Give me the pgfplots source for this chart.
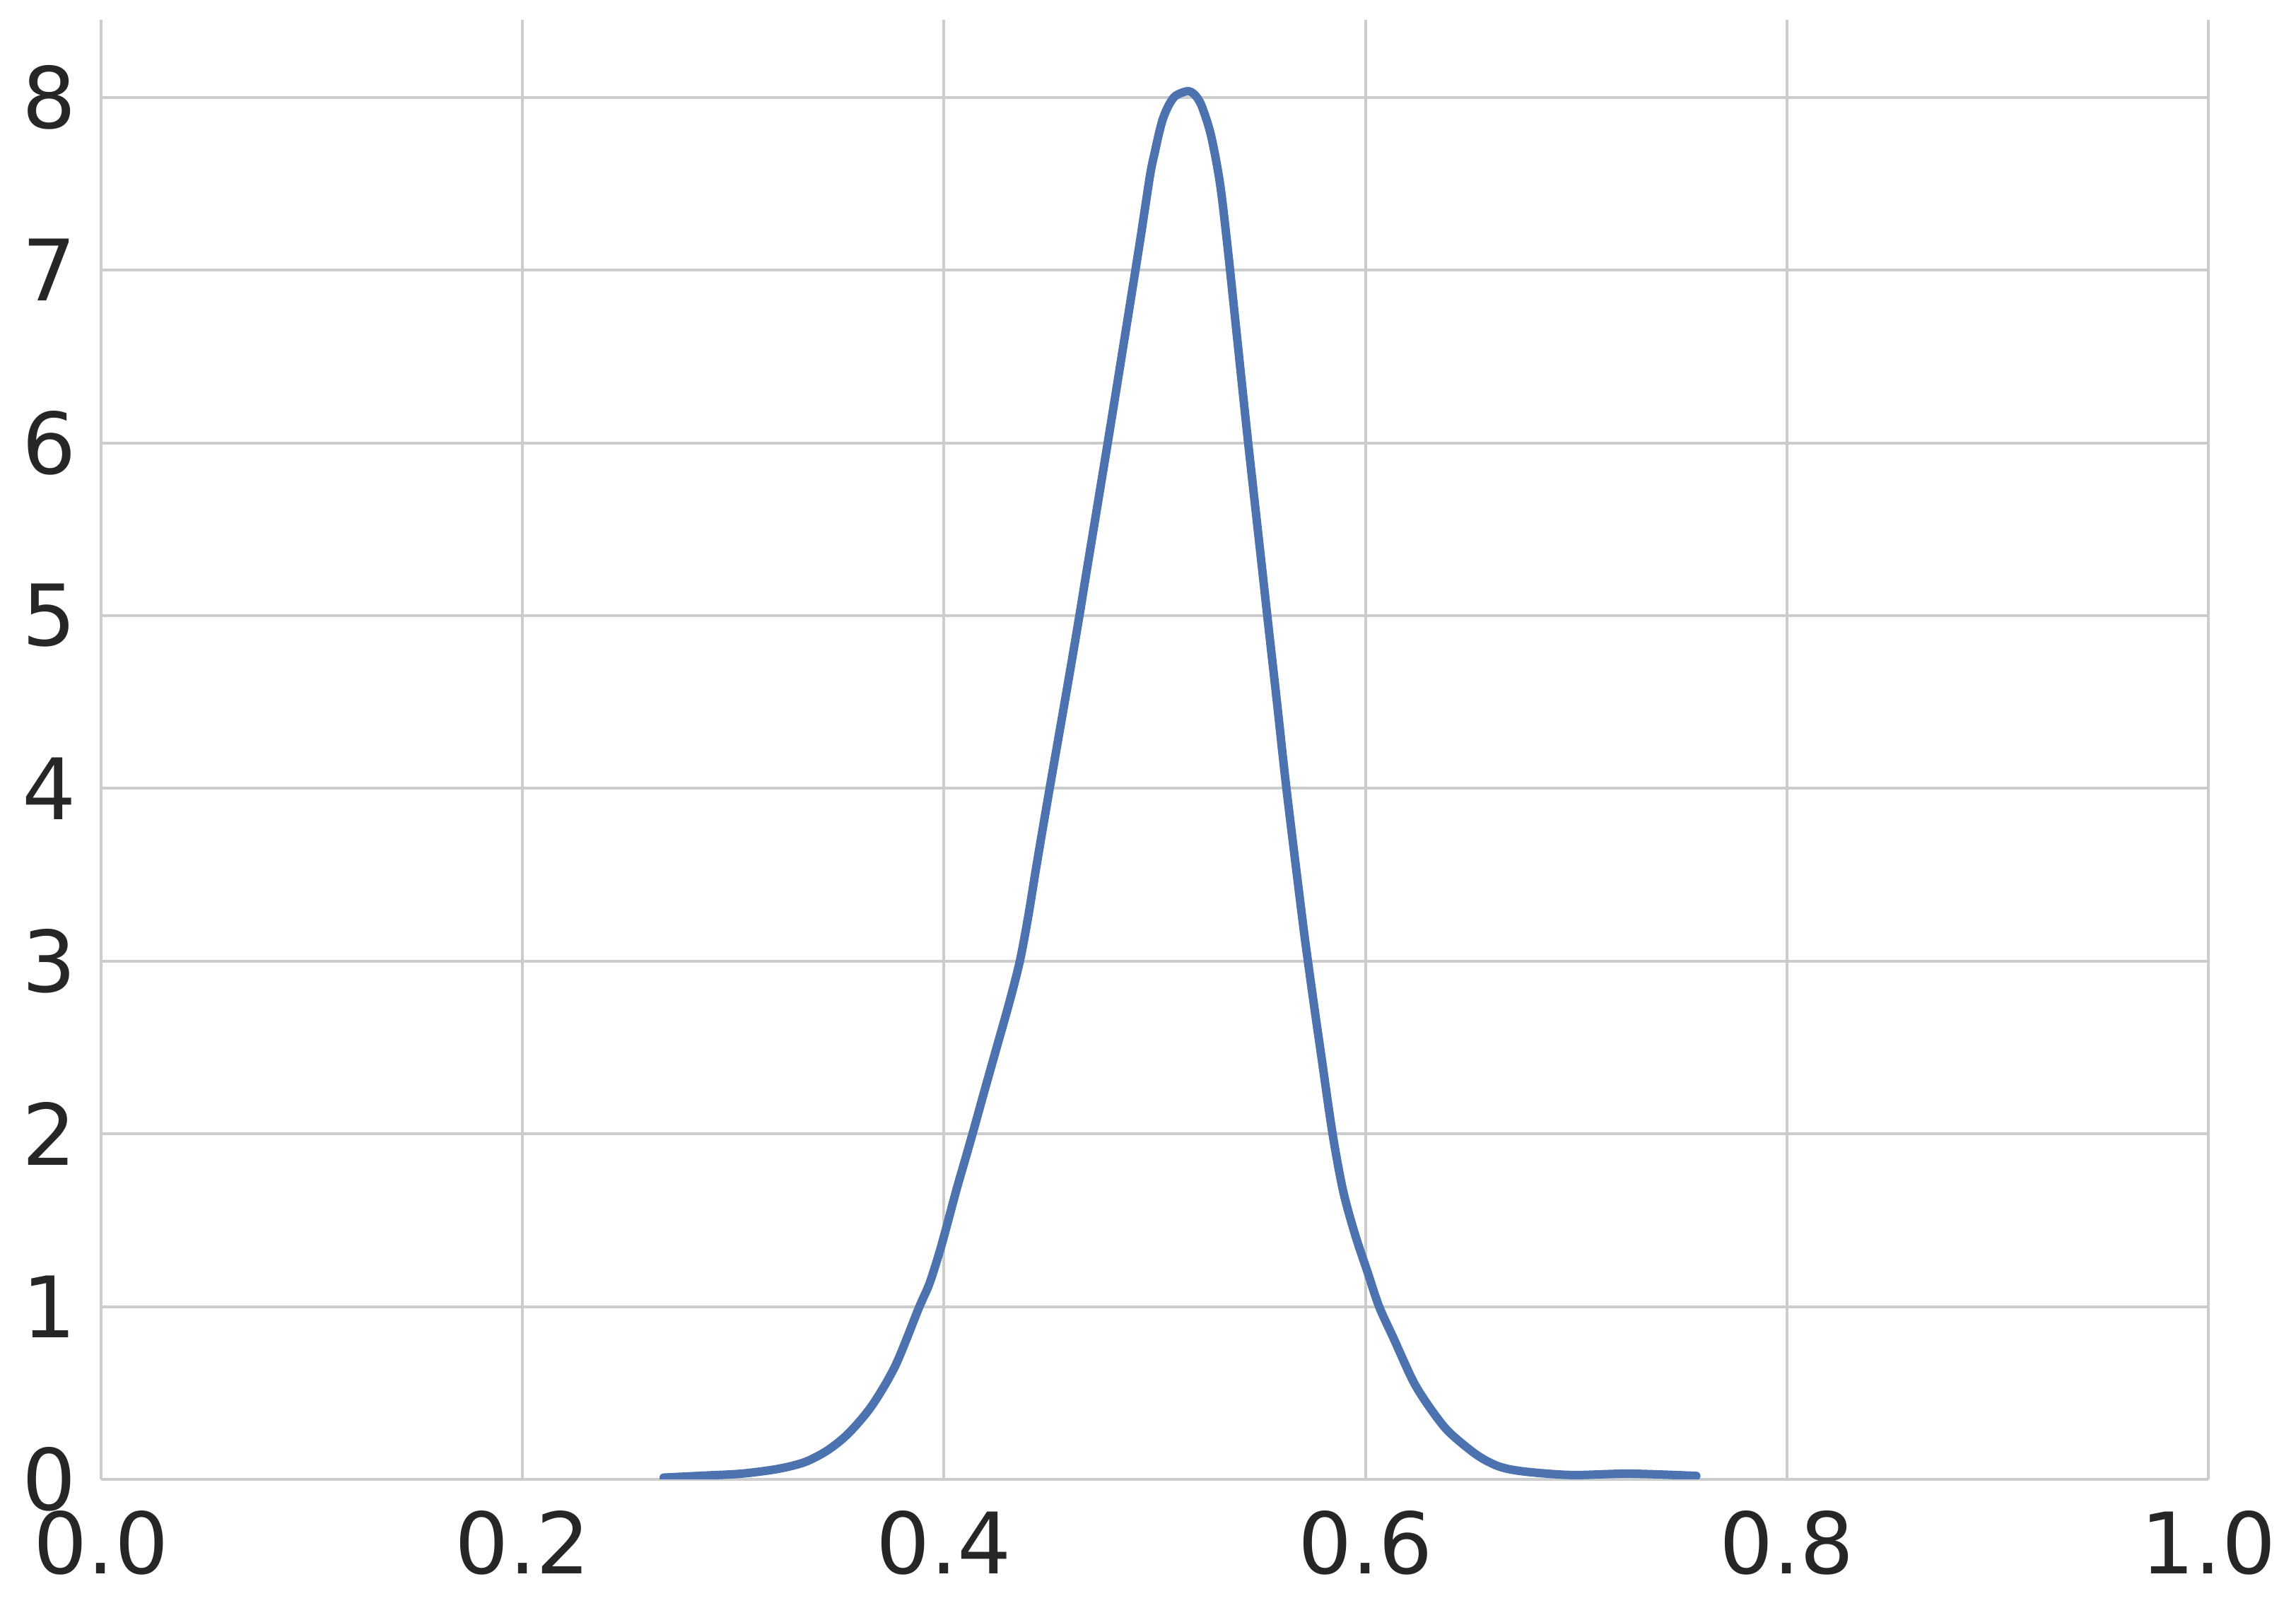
\documentclass[border=0pt]{standalone}
\usepackage{fontspec}
\setmainfont{DejaVu Sans}
\usepackage{pgfplots}
\pgfplotsset{compat=1.18}
\definecolor{sbgrid}{RGB}{204,204,204}
\definecolor{sbtext}{RGB}{38,38,38}
\definecolor{sbblue}{RGB}{76,114,176}

\begin{document}
\begin{tikzpicture}
% page size in the same proportions as the reference
\path[use as bounding box] (-14.3pt,-18.2pt) rectangle (310.5pt,209.3pt);
\begin{axis}[
  scale only axis,
  width=298.1pt, height=206.5pt,
  xmin=0, xmax=1, ymin=0, ymax=8.449,
  xtick={0,0.2,0.4,0.6,0.8,1},
  xticklabels={0.0,0.2,0.4,0.6,0.8,1.0},
  ytick={0,1,2,3,4,5,6,7,8},
  /pgf/number format/assume math mode=true,
  tick label style={font=\fontsize{12}{14}\selectfont, text=sbtext, inner sep=0pt},
  xticklabel style={anchor=north, yshift=-4.2pt},
  yticklabel style={anchor=east, xshift=-3.3pt},
  major tick length=0pt,
  grid=major,
  major grid style={sbgrid, line width=0.4pt},
  axis x line*=bottom, axis y line*=left,
  axis line style={sbgrid, line width=0.45pt, -},
]
\addplot[sbblue, line width=1.2pt, line join=round, line cap=round,
         smooth, tension=0.5] table {
x y
0.267 0.010
0.287 0.022
0.304 0.033
0.321 0.060
0.334 0.100
0.345 0.170
0.355 0.270
0.366 0.430
0.377 0.660
0.388 0.990
0.393 1.130
0.3975 1.300
0.4005 1.430
0.406 1.680
0.4105 1.870
0.414 2.020
0.419 2.240
0.425 2.500
0.431 2.760
0.436 3.000
0.440 3.260
0.444 3.560
0.450 3.990
0.458 4.550
0.464 4.980
0.4676 5.250
0.4777 6.000
0.4843 6.500
0.4928 7.150
0.4978 7.550
0.500 7.680
0.502 7.790
0.504 7.880
0.5069 7.960
0.510 8.010
0.5156 8.036
0.519 8.015
0.5223 7.950
0.5267 7.780
0.531 7.500
0.5347 7.120
0.539 6.620
0.544 6.040
0.5508 5.290
0.5535 4.990
0.558 4.500
0.5625 4.000
0.570 3.250
0.5727 3.000
0.576 2.710
0.5793 2.430
0.5844 2.000
0.5894 1.670
0.595 1.420
0.601 1.200
0.6065 1.000
0.6136 0.810
0.623 0.560
0.632 0.390
0.640 0.270
0.653 0.140
0.6635 0.074
0.6756 0.045
0.698 0.025
0.725 0.033
0.757 0.020
};
\end{axis}
\end{tikzpicture}
\end{document}
